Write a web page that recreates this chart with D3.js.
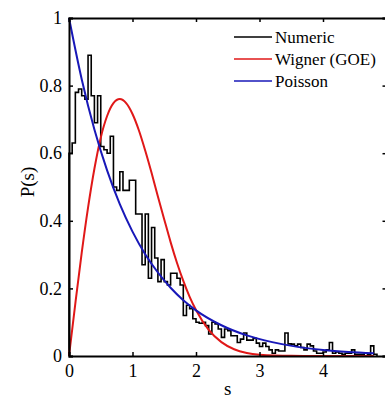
<!DOCTYPE html>
<html lang="en">
<head>
<meta charset="UTF-8">
<title>Level spacing distribution P(s)</title>
<script src="https://cdnjs.cloudflare.com/ajax/libs/d3/7.8.5/d3.min.js"></script>
<style>
    body {
        margin: 0;
        background: #fff;
        overflow: hidden;
    }
    svg text {
        font-family: "Liberation Serif", "Times New Roman", "DejaVu Serif", serif !important;
    }
</style>
</head>
<body>
<div id="chart"></div>
<script>
// histogram of numeric spacings, bin width 0.05 starting at s = 0
const binWidth = 0.05;
const numericValues = [
    0.60, 0.63, 0.78, 0.79, 0.77, 0.76, 0.89, 0.77, 0.69, 0.77,
    0.62, 0.61, 0.60, 0.65, 0.50, 0.49, 0.545, 0.49, 0.49, 0.52,
    0.52, 0.42, 0.42, 0.27, 0.42, 0.23, 0.38, 0.29, 0.22, 0.285,
    0.22, 0.21, 0.245, 0.245, 0.23, 0.21, 0.12, 0.15, 0.14, 0.11,
    0.10, 0.097, 0.10, 0.09, 0.065, 0.10, 0.095, 0.08, 0.055, 0.08,
    0.075, 0.06, 0.06, 0.04, 0.05, 0.068, 0.047, 0.047, 0.052, 0.038,
    0.028, 0.038, 0.028, 0.018, 0.008, 0.018, 0.015, 0.015, 0.068, 0.036,
    0.035, 0.03, 0.035, 0.025, 0.018, 0.035, 0.03, 0.015, 0.008, 0.008,
    0.012, 0.018, 0.04, 0.008, 0.012, 0.008, 0.005, 0.008, 0.008, 0.018,
    0.005, 0.005, 0.005, 0.008, 0.005, 0.03, 0.005
];

// Wigner (GOE) curve
const wignerS = [0, 0.1, 0.2, 0.3, 0.4, 0.5, 0.6, 0.7, 0.8, 0.9, 1.0, 1.1, 1.2, 1.3, 1.4,
    1.5, 1.6, 1.7, 1.8, 1.9, 2.0, 2.2, 2.4, 2.6, 2.8, 3.0, 3.5, 4.0, 4.8];
const wignerP = [0, 0.156, 0.305, 0.439, 0.554, 0.646, 0.710, 0.748, 0.760, 0.748, 0.716, 0.668, 0.608, 0.542, 0.472,
    0.404, 0.337, 0.276, 0.222, 0.175, 0.136, 0.077, 0.041, 0.020, 0.009, 0.004, 0.0004, 0, 0];

// Poisson curve
const poissonS = [0, 0.2, 0.4, 0.6, 0.8, 1.0, 1.2, 1.4, 1.6, 1.8, 2.0, 2.4, 2.8, 3.2, 3.6, 4.0, 4.4, 4.8];
const poissonP = [1, 0.819, 0.670, 0.549, 0.449, 0.368, 0.301, 0.247, 0.202, 0.165, 0.135, 0.091, 0.061, 0.041, 0.027, 0.018, 0.012, 0.008];

const xTicks = [0, 1, 2, 3, 4];
const yTicks = [0, 0.2, 0.4, 0.6, 0.8, 1];
const legendNames = ["Numeric", "Wigner (GOE)", "Poisson"];
const legendColors = ["#000000", "#e01818", "#1818b8"];

const W = 385, H = 398;
const margin = { top: 18, left: 69 };
const plotW = 317.5, plotH = 338;

const svg = d3.select("#chart").append("svg")
    .attr("width", W)
    .attr("height", H);

const g = svg.append("g")
    .attr("transform", `translate(${margin.left},${margin.top})`);

const x = d3.scaleLinear().domain([0, 5]).range([0, plotW]);
const y = d3.scaleLinear().domain([0, 1]).range([plotH, 0]);

// histogram as a stair line
const histPts = [[0, 0]];
numericValues.forEach((v, i) => histPts.push([i * binWidth, v]));
histPts.push([numericValues.length * binWidth, numericValues[numericValues.length - 1]]);
histPts.push([numericValues.length * binWidth, 0]);

g.append("path")
    .datum(histPts)
    .attr("fill", "none")
    .attr("stroke", legendColors[0])
    .attr("stroke-width", 1.6)
    .attr("d", d3.line().x(d => x(d[0])).y(d => y(d[1])).curve(d3.curveStepAfter));

const smooth = d3.line().x(d => x(d[0])).y(d => y(d[1])).curve(d3.curveMonotoneX);

g.append("path")
    .datum(wignerS.map((s, i) => [s, wignerP[i]]))
    .attr("fill", "none")
    .attr("stroke", legendColors[1])
    .attr("stroke-width", 2)
    .attr("d", smooth);

g.append("path")
    .datum(poissonS.map((s, i) => [s, poissonP[i]]))
    .attr("fill", "none")
    .attr("stroke", legendColors[2])
    .attr("stroke-width", 2)
    .attr("d", smooth);

// axes box
const tickLen = 4;
const axBottom = g.append("g")
    .attr("transform", `translate(0,${plotH})`)
    .call(d3.axisBottom(x).tickValues(xTicks).tickSize(-tickLen).tickPadding(8).tickFormat(d3.format("d")));
const axTop = g.append("g")
    .call(d3.axisTop(x).tickValues(xTicks).tickSize(-tickLen).tickFormat(""));
const axLeft = g.append("g")
    .call(d3.axisLeft(y).tickValues(yTicks).tickSize(-tickLen).tickPadding(7).tickFormat(d => d === 0 || d === 1 ? d3.format("d")(d) : d3.format(".1f")(d)));
const axRight = g.append("g")
    .attr("transform", `translate(${plotW},0)`)
    .call(d3.axisRight(y).tickValues(yTicks).tickSize(-tickLen).tickFormat(""));

[axBottom, axTop, axLeft, axRight].forEach(a => {
    a.attr("font-family", null);
    a.select(".domain").attr("stroke", "#000").attr("stroke-width", 2);
    a.selectAll(".tick line").attr("stroke", "#000").attr("stroke-width", 1.5);
    a.selectAll("text").attr("fill", "#000").style("font-size", "18px");
});

// axis labels
g.append("text")
    .attr("x", plotW / 2)
    .attr("y", plotH + 39)
    .attr("text-anchor", "middle")
    .style("font-size", "19px")
    .text("s");

g.append("text")
    .attr("transform", "rotate(-90)")
    .attr("x", -plotH / 2 + 5)
    .attr("y", -35)
    .attr("text-anchor", "middle")
    .style("font-size", "19px")
    .text("P(s)");

// legend
const legend = g.append("g").attr("transform", `translate(${234 - margin.left},${37 - margin.top})`);
legendNames.forEach((name, i) => {
    const row = legend.append("g").attr("transform", `translate(0,${i * 22})`);
    row.append("line")
        .attr("x1", 0).attr("x2", 38)
        .attr("stroke", legendColors[i])
        .attr("stroke-width", 1.6);
    row.append("text")
        .attr("x", 41)
        .attr("dy", "0.33em")
        .style("font-size", "17px")
        .text(name);
});
</script>
</body>
</html>
